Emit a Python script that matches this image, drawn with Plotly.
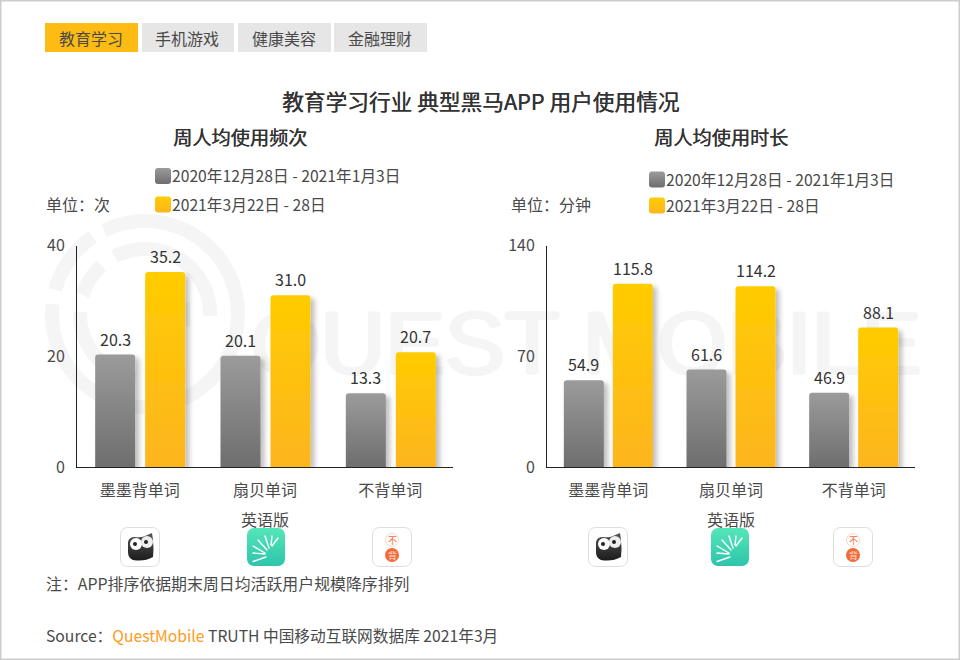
import base64

import numpy as np
import plotly.graph_objects as go

# ── data ──────────────────────────────────────────────────────────────
apps = ["墨墨背单词", "扇贝单词", "不背单词"]
freq_old = [20.3, 20.1, 13.3]
freq_new = [35.2, 31.0, 20.7]
time_old = [54.9, 61.6, 46.9]
time_new = [115.8, 114.2, 88.1]
freq_ticks = [0, 20, 40]
time_ticks = [0, 70, 140]
tabs = ["教育学习", "手机游戏", "健康美容", "金融理财"]
period_old = "2020年12月28日 - 2021年1月3日"
period_new = "2021年3月22日 - 28日"

FONT = "Noto Sans CJK SC"
INK = "#4a4a4a"
GREY = "#888888"
GOLD = "#ffc20a"
MARK = "#f5f5f5"
W, H = 960, 660
AXIS_TOP, AXIS_BOTTOM = 245.5, 467

fig = go.Figure()
shapes, notes, images = [], [], []


def note(x, y, text, size=16, anchor="left", color=INK, shadow=None):
    notes.append(dict(
        x=x, y=y, xref="x", yref="y", text=text, showarrow=False, xanchor=anchor, yanchor="middle",
        borderpad=0, font=dict(size=size, color=color, family=FONT, shadow=shadow or "none"),
    ))


def rounded(x0, y0, x1, y1, r):
    return (f"M{x0+r},{y0} L{x1-r},{y0} Q{x1},{y0} {x1},{y0+r} L{x1},{y1-r} Q{x1},{y1} {x1-r},{y1} "
            f"L{x0+r},{y1} Q{x0},{y1} {x0},{y1-r} L{x0},{y0+r} Q{x0},{y0} {x0+r},{y0} Z")


def arc(cx, cy, r, a0, a1, width=14):
    """Watermark ring segment, angles in degrees, counter-clockwise from east."""
    t = np.radians(np.linspace(a0, a1, 80))
    pts = [f"{cx + r*np.cos(v):.1f},{cy - r*np.sin(v):.1f}" for v in t]
    shapes.append(dict(type="path", xref="x", yref="y", layer="below", path="M" + " L".join(pts),
                       line=dict(color=MARK, width=width)))


def svg_image(svg, x0, y0, x1, y1):
    uri = "data:image/svg+xml;base64," + base64.b64encode(svg.encode()).decode()
    images.append(dict(source=uri, xref="x", yref="y", x=x0, y=y0, sizex=x1 - x0, sizey=y1 - y0,
                       xanchor="left", yanchor="top", sizing="stretch", layer="above"))


# ── watermark ─────────────────────────────────────────────────────────
for a0, a1 in [(116, -186), (165, 124)]:
    arc(145, 314, 93, a0, a1)
for a0, a1 in [(118, -2), (163, 132), (178, 262)]:
    arc(145, 314, 65, a0, a1)
shapes.append(dict(type="path", xref="x", yref="y", layer="below", path="M145,314 L190,314",
                   line=dict(color=MARK, width=24)))
fig.add_trace(go.Scatter(
    x=[586], y=[352], mode="text", text=["QUEST MOBILE"], cliponaxis=False, hoverinfo="skip", showlegend=False,
    textfont=dict(family="Liberation Sans", size=89.6, color=MARK,
                  shadow=f"2px 0 0 {MARK}, -2px 0 0 {MARK}, 0 1px 0 {MARK}, 0 -1px 0 {MARK}"),
    xaxis="x", yaxis="y",
))


# ── charts ────────────────────────────────────────────────────────────
def chart(n, old, new, ticks, x0, x1, left_old, left_new):
    unit = (x1 - x0) / len(apps)
    xa, ya = f"x{n}", f"y{n}"
    bar_w = 40 / unit
    for name, vals, color, off in [("old", old, GREY, (left_old) / unit), ("new", new, GOLD, (left_new) / unit)]:
        fig.add_trace(go.Bar(
            x=apps, y=vals, name=name, width=bar_w, offset=off, marker=dict(color=color, line=dict(width=0)),
            showlegend=False, xaxis=xa, yaxis=ya,
        ))
        for app, v in zip(apps, vals):
            notes.append(dict(
                x=app, y=v, xref=xa, yref=ya, text=f"{v:.1f}", showarrow=False, yanchor="middle", yshift=16,
                xshift=(off + bar_w / 2) * unit, font=dict(size=16, color="#333333", family=FONT),
            ))
    axis_x = dict(
        domain=[x0 / W, x1 / W], anchor=ya, automargin=False, showgrid=False, zeroline=False, showline=True,
        linecolor="#222222", linewidth=1, ticks="", ticklabelstandoff=9,
        tickfont=dict(size=16, color=INK, family=FONT),
    )
    axis_y = dict(
        domain=[1 - AXIS_BOTTOM / H, 1 - AXIS_TOP / H], anchor=xa, automargin=False, range=[0, ticks[-1]],
        tickvals=ticks, showgrid=False, zeroline=False, showline=True, linecolor="#222222", linewidth=1, ticks="",
        ticklabelstandoff=8, tickfont=dict(size=16, color=INK, family=FONT),
    )
    fig.update_layout({f"xaxis{n}": axis_x, f"yaxis{n}": axis_y})


chart(2, freq_old, freq_new, freq_ticks, 77, 453, -44.5, 5.5)
chart(3, time_old, time_new, time_ticks, 547, 915, -44.5, 4.5)
note(265, 518.5, "英语版", anchor="center")
note(731, 518.5, "英语版", anchor="center")

# ── tabs, titles, legends ─────────────────────────────────────────────
for i, (label, x0, x1) in enumerate(zip(tabs, [45, 142, 238, 334], [138, 234, 331, 427])):
    shapes.append(dict(type="rect", xref="x", yref="y", x0=x0, x1=x1, y0=23, y1=52, line=dict(width=0),
                       fillcolor="#fdbb14" if i == 0 else "#e6e6e6", layer="below"))
    note((x0 + x1) / 2 - 1, 37.5, label, anchor="center")

FAUX_BOLD = "0.4px 0 0 #333333"
note(480, 100, "教育学习行业 典型黑马APP 用户使用情况", size=21.7, anchor="center", color="#333333", shadow=FAUX_BOLD)
note(240, 137, "周人均使用频次", size=19.2, anchor="center", color="#333333", shadow=FAUX_BOLD)
note(721, 137, "周人均使用时长", size=19.2, anchor="center", color="#333333", shadow=FAUX_BOLD)
note(45, 204, "单位：次")
note(510, 204, "单位：分钟")

for x, y_old, y_new in [(155, 176, 204.5), (649, 179.5, 205.5)]:
    for y, color, label in [(y_old, GREY, period_old), (y_new, GOLD, period_new)]:
        shapes.append(dict(type="path", xref="x", yref="y", path=rounded(x, y - 8, x + 16, y + 8, 3),
                           fillcolor=color, line=dict(width=0)))
        note(x + 15.5, y - 0.5, label, size=15.7)

# ── app icons ─────────────────────────────────────────────────────────
OWL = """<svg xmlns="http://www.w3.org/2000/svg" viewBox="0 0 40 40">
<rect x=".5" y=".5" width="39" height="39" rx="7" fill="#fff" stroke="#dddddd"/>
<defs><linearGradient id="o" x1="0" y1="0" x2="0" y2="1"><stop offset="0" stop-color="#555"/><stop offset="1" stop-color="#1c1c1c"/></linearGradient></defs>
<path d="M8 15 Q9 10 15 10 Q21 11 25 9 L32 6 L33 13 Q34 22 33 30 Q24 35 13 33 Q8 31 8 25 Z" fill="url(#o)"/>
<circle cx="16" cy="17" r="6" fill="#fff"/><circle cx="27" cy="15" r="6" fill="#eee"/>
<circle cx="15" cy="17" r="2" fill="#222"/><circle cx="26" cy="15" r="2" fill="#222"/></svg>"""

SPOKES = [(6, 33.5, 19, 29), (6, 25, 18, 26), (6, 18, 18, 25), (11, 12, 20, 22), (18, 8, 22, 20), (25, 8, 24, 17), (31, 10, 25, 18)]
GREEN = ('<svg xmlns="http://www.w3.org/2000/svg" viewBox="0 0 38 38"><defs><linearGradient id="g" x1="0" y1="0" x2="0" y2="1">'
         '<stop offset="0" stop-color="#54e6b9"/><stop offset="1" stop-color="#2fc4ab"/></linearGradient></defs>'
         '<rect width="38" height="38" rx="7" fill="url(#g)"/>'
         + "".join(f'<line x1="{a}" y1="{b}" x2="{c}" y2="{d}" stroke="#fff" stroke-width="1.4" stroke-linecap="round"/>' for a, b, c, d in SPOKES)
         + "</svg>")

ORANGE = """<svg xmlns="http://www.w3.org/2000/svg" viewBox="0 0 40 40">
<rect x=".5" y=".5" width="39" height="39" rx="7" fill="#fff" stroke="#dddddd"/>
<circle cx="20" cy="13" r="6.5" fill="#fff" stroke="#fbd5c5"/><circle cx="20" cy="28" r="7" fill="#f4693a"/></svg>"""

for x_owl, x_green, x_orange in [(120, 247, 372), (588, 711, 833)]:
    svg_image(OWL, x_owl, 527, x_owl + 40, 567)
    svg_image(GREEN, x_green, 528, x_green + 38, 566)
    svg_image(ORANGE, x_orange, 527, x_orange + 40, 567)
    note(x_orange + 20, 540, "不", size=9, anchor="center", color="#f4693a")
    note(x_orange + 20, 555, "背", size=9, anchor="center", color="#fde0d4")

# ── footer ────────────────────────────────────────────────────────────
note(44.5, 583, "注：APP排序依据期末周日均活跃用户规模降序排列", size=15.9)
note(44.5, 635, 'Source：<span style="color:#ff9a1a">QuestMobile</span> TRUTH 中国移动互联网数据库 2021年3月', size=15.7)
shapes.append(dict(type="rect", xref="paper", yref="paper", x0=0, x1=1, y0=0, y1=1,
                   line=dict(color="#cccccc", width=3), fillcolor="rgba(0,0,0,0)"))

fig.update_layout(
    width=W, height=H, margin=dict(l=0, r=0, t=0, b=0), paper_bgcolor="white", plot_bgcolor="rgba(0,0,0,0)",
    barmode="group", barcornerradius=3, showlegend=False, font=dict(family=FONT),
    xaxis=dict(domain=[0, 1], range=[0, W], visible=False, fixedrange=True, automargin=False),
    yaxis=dict(domain=[0, 1], range=[H, 0], visible=False, fixedrange=True, automargin=False),
    shapes=shapes, annotations=notes, images=images,
)

# bars have no gradient fill or shadow in plotly, so add them on the svg once drawn
POST = """
document.body.style.margin = '0';
var svg = document.querySelector('.main-svg');
var defs = svg.querySelector('defs');
defs.insertAdjacentHTML('beforeend',
  '<linearGradient id="barGrey" x1="0" y1="0" x2="0" y2="1"><stop offset="0" stop-color="#9b9b9b"/><stop offset="1" stop-color="#6e6e6e"/></linearGradient>' +
  '<linearGradient id="barGold" x1="0" y1="0" x2="0" y2="1"><stop offset="0" stop-color="#ffcc00"/><stop offset="1" stop-color="#fdb51f"/></linearGradient>' +
  '<filter id="barShadow" x="-20%" y="-10%" width="150%" height="120%"><feDropShadow dx="4" dy="3" stdDeviation="2.5" flood-color="#000" flood-opacity="0.25"/></filter>');
var fills = {'rgb(136, 136, 136)': 'url(#barGrey)', 'rgb(255, 194, 10)': 'url(#barGold)'};
document.querySelectorAll('.bars .point path').forEach(function (p) {
  p.style.fill = fills[p.style.fill] || p.style.fill;
  p.setAttribute('filter', 'url(#barShadow)');
});
document.querySelectorAll('.shapelayer path').forEach(function (p) {
  if (fills[p.style.fill]) { p.style.fill = fills[p.style.fill]; }
});
"""

fig.write_html("out.html", post_script=POST, config=dict(displayModeBar=False))
